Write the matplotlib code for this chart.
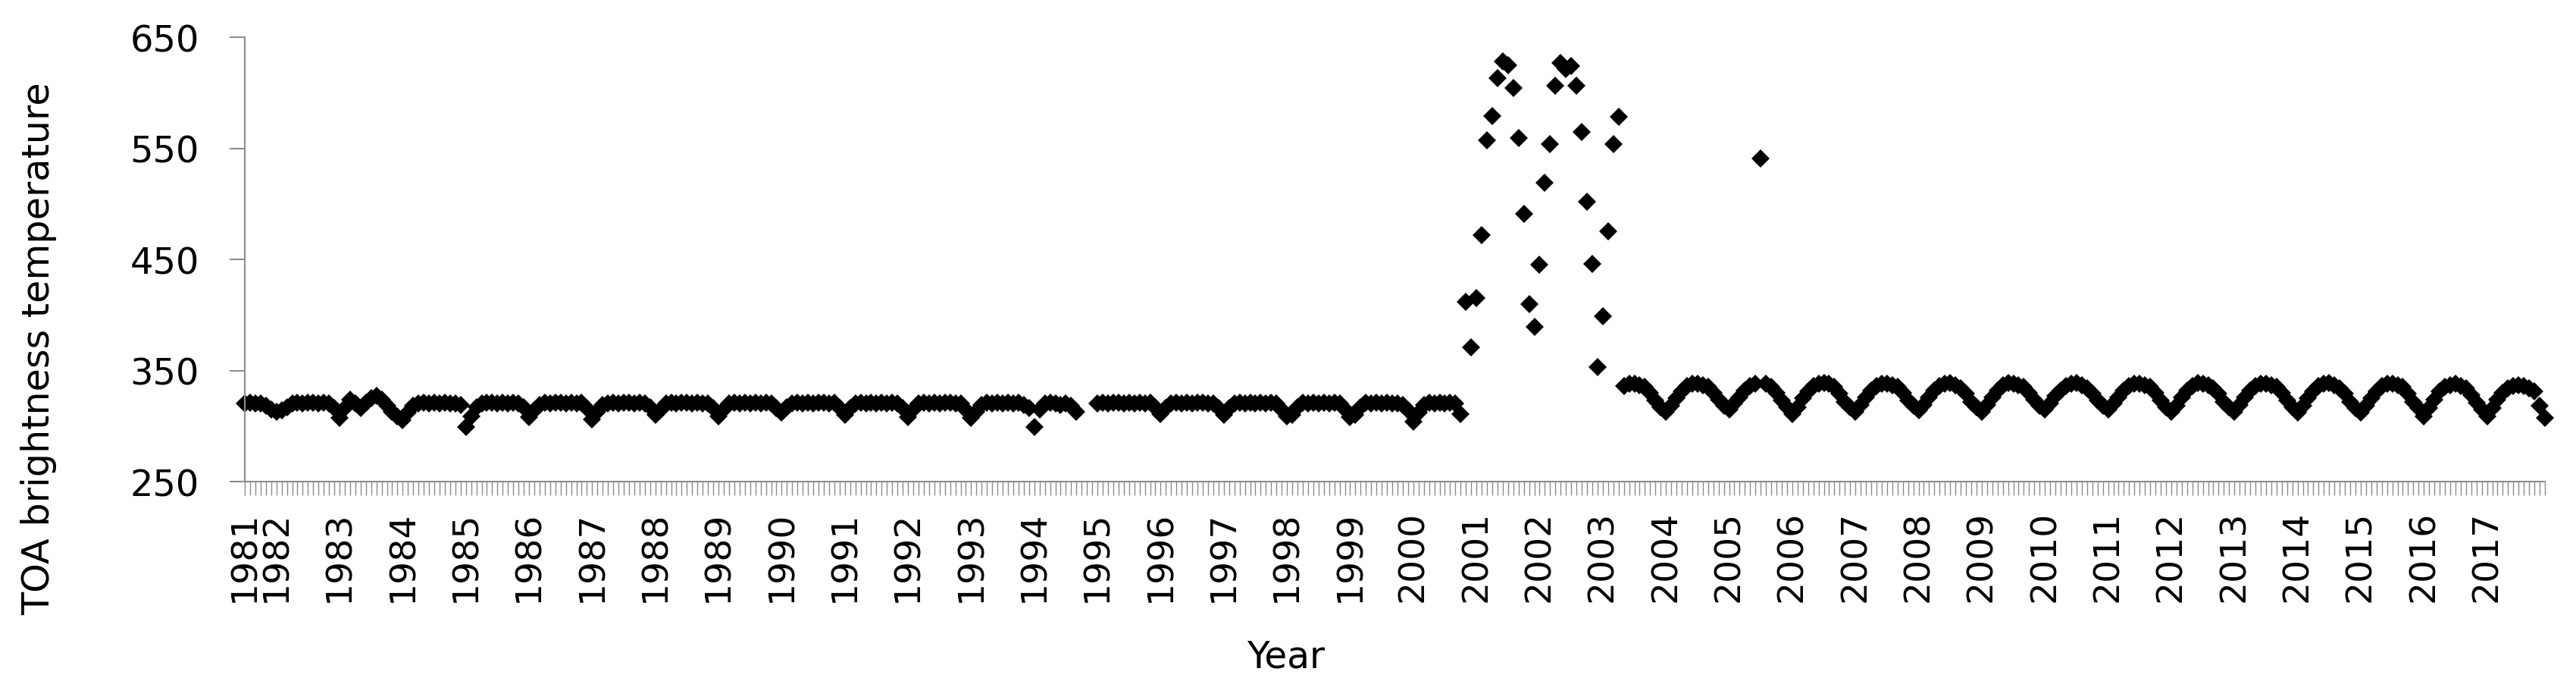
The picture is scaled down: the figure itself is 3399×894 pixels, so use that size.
import numpy as np
import matplotlib
matplotlib.use('Agg')
import matplotlib.pyplot as plt

plt.rcParams['font.family'] = ['DejaVu Sans']

# monthly TOA brightness temperature, one row per year
# AVHRR period, Jul 1981 - Oct 2000 (None = missing month)
early_tb = [
    320, 321, 320, 320, 318, 315,                                  # 1981 Jul-Dec
    313, 314, 317, 320, 321, 320, 321, 321, 320, 321, 320, 316,    # 1982
    307, 316, 324, 320, 316, 321, 325, 327, 324, 318, 313, 309,    # 1983
    305, 312, 318, 320, 321, 320, 321, 320, 321, 320, 320, 319,    # 1984
    299, 309, 317, 320, 321, 321, 320, 321, 320, 321, 320, 317,    # 1985
    308, 314, 319, 321, 320, 321, 321, 320, 321, 320, 321, 316,    # 1986
    306, 313, 319, 320, 321, 320, 321, 321, 320, 321, 320, 317,    # 1987
    310, 315, 320, 321, 320, 321, 321, 320, 321, 320, 320, 316,    # 1988
    309, 315, 320, 321, 320, 321, 320, 321, 320, 321, 320, 316,    # 1989
    312, 317, 320, 321, 320, 321, 320, 321, 321, 320, 321, 316,    # 1990
    310, 316, 320, 321, 320, 321, 320, 321, 320, 321, 320, 316,    # 1991
    308, 315, 320, 321, 320, 321, 320, 321, 321, 320, 320, 315,    # 1992
    307, 313, 319, 321, 320, 321, 320, 321, 320, 321, 319, 316,    # 1993
    299, 315, 320, 321, 320, 319, 320, 318, 313, None, None, None, # 1994
    320, 321, 320, 321, 321, 320, 321, 320, 321, 320, 321, 317,    # 1995
    311, 316, 320, 321, 320, 321, 320, 321, 321, 320, 320, 316,    # 1996
    310, 316, 320, 321, 320, 321, 320, 321, 320, 321, 320, 315,    # 1997
    309, 310, 317, 321, 320, 321, 320, 321, 320, 321, 320, 315,    # 1998
    308, 310, 317, 321, 320, 321, 320, 321, 320, 320, 319, 314,    # 1999
    304, 312, 319, 321, 320, 321, 320, 321, 320, 311,              # 2000 Jan-Oct
]

# anomaly period, Nov 2000 - Apr 2003
fire_tb = [
    412, 371,                                                      # 2000 Nov-Dec
    415, 472, 557, 579, 613, 628, 625, 604, 559, 491, 410, 389,    # 2001
    445, 519, 554, 606, 627, 621, 624, 606, 565, 502, 446, 353,    # 2002
    399, 475, 554, 578,                                            # 2003 Jan-Apr
]

# May 2003 - Dec 2017
late_tb = [
    336, 338, 338, 337, 335, 330, 323, 317,                        # 2003 May-Dec
    313, 318, 325, 331, 336, 338, 338, 337, 335, 330, 324, 318,    # 2004
    315, 320, 326, 332, 336, 338, 541, 338, 335, 330, 323, 317,    # 2005
    311, 317, 325, 331, 336, 338, 339, 338, 335, 329, 322, 317,    # 2006
    313, 319, 326, 332, 336, 338, 338, 337, 335, 330, 323, 318,    # 2007
    314, 319, 326, 332, 336, 338, 339, 337, 334, 329, 322, 317,    # 2008
    313, 319, 326, 332, 337, 339, 338, 337, 335, 330, 324, 318,    # 2009
    315, 320, 327, 332, 336, 338, 339, 337, 334, 329, 323, 318,    # 2010
    315, 320, 326, 332, 336, 338, 338, 337, 335, 330, 323, 317,    # 2011
    313, 318, 326, 332, 336, 339, 338, 337, 334, 329, 322, 317,    # 2012
    313, 319, 326, 332, 336, 338, 338, 337, 335, 330, 323, 317,    # 2013
    312, 318, 325, 331, 336, 338, 339, 337, 334, 329, 322, 316,    # 2014
    312, 318, 325, 331, 336, 338, 338, 337, 335, 329, 322, 316,    # 2015
    309, 316, 324, 331, 335, 337, 338, 336, 334, 328, 321, 315,    # 2016
    309, 316, 324, 330, 334, 336, 337, 336, 334, 331, 318, 307,    # 2017
]

FIRST_YEAR, FIRST_MONTH = 1981, 7

tb = np.array([np.nan if v is None else v for v in early_tb + fire_tb + late_tb], dtype=float)
n = len(tb)
x = np.arange(n)

# category labels: year shown only on the first month of each year
labels = []
for i in range(n):
    m = FIRST_MONTH - 1 + i
    year, month = FIRST_YEAR + m // 12, m % 12 + 1
    labels.append(str(year) if (i == 0 or month == 1) else '')

W, H = 3399, 895
fig = plt.figure(figsize=(W / 100, H / 100), dpi=100)
ax = fig.add_axes([323 / W, (H - 636) / H, (3358 - 323) / W, (636 - 50) / H])

ax.plot(x, tb, linestyle='none', marker='D', ms=12.7, mew=0, color='black', clip_on=False)

ax.set_xlim(0, n - 1)
ax.set_ylim(250, 650)
ax.set_yticks(range(250, 651, 100))
ax.set_xticks(x)
ax.set_xticklabels(labels)

axis_grey = '#8c8c8c'
for side in ['top', 'right']:
    ax.spines[side].set_visible(False)
for side in ['left', 'bottom']:
    ax.spines[side].set_color(axis_grey)
    ax.spines[side].set_linewidth(1.5)

ax.tick_params(axis='y', length=14.5, width=1.5, color=axis_grey, pad=29, labelsize=34.5)
ax.tick_params(axis='x', length=13, width=1.0, color=axis_grey, pad=14, labelsize=34,
               labelrotation=90)

fig.text(51 / W, (H - 460) / H, 'TOA brightness temperature', rotation=90,
         ha='center', va='center', fontsize=35.5)
fig.text(0.499, (H - 867) / H, 'Year', ha='center', va='center', fontsize=35)

fig.savefig('out.png', dpi=100)
